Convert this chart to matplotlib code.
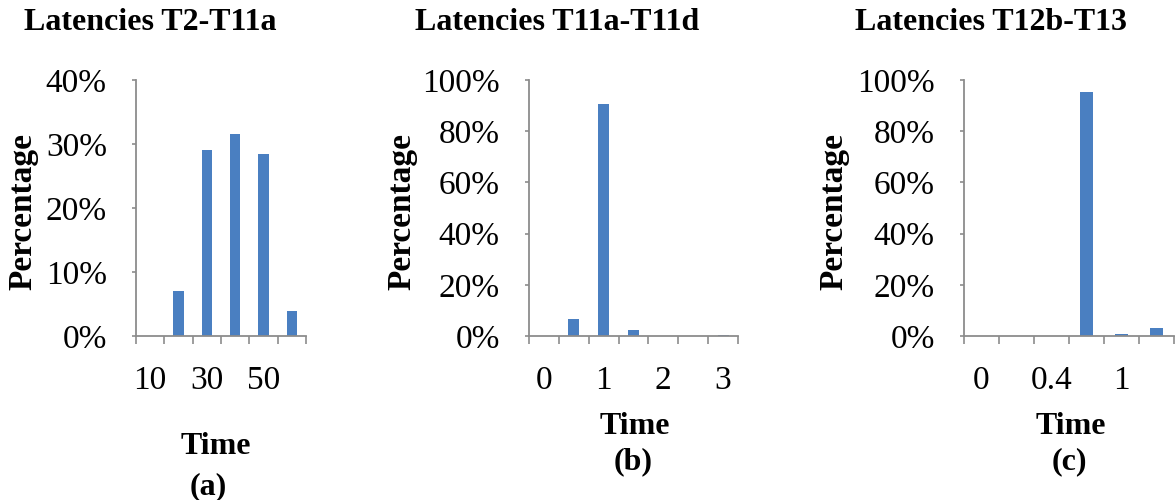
import matplotlib
matplotlib.use("Agg")
import matplotlib.pyplot as plt
from matplotlib.ticker import FuncFormatter

plt.rcParams['font.family'] = ['Liberation Serif', 'DejaVu Serif']

# ****** Data ******
times_a = ["10", "20", "30", "40", "50", "60"]
pct_a = [0, 7.0, 29.0, 31.6, 28.5, 3.9]

times_b = ["0", "0.5", "1", "1.5", "2", "2.5", "3"]
pct_b = [0, 6.6, 90.5, 2.3, 0, 0, 0.3]

times_c = ["0", "0.2", "0.4", "0.6", "1", "2"]
pct_c = [0, 0, 0, 95.2, 0.6, 3.0]

titles = ["Latencies T2-T11a", "Latencies T11a-T11d", "Latencies T12b-T13"]
letters = ["(a)", "(b)", "(c)"]

BAR = "#4A7FC1"
AXIS = "#8C8C8C"

W, H = 1175, 500
fig = plt.figure(figsize=(W / 100, H / 100), dpi=100)
fig.patch.set_facecolor("white")


def px(x0, x1, y0, y1):
    # pixel box -> figure fraction rect
    return [x0 / W, 1 - y1 / H, (x1 - x0) / W, (y1 - y0) / H]


def draw_panel(rect, cats, vals, ymax, ystep):
    ax = fig.add_axes(rect)
    n = len(cats)
    ax.bar(range(n), vals, width=0.37, color=BAR, zorder=2)
    ax.set_xlim(-0.5, n - 0.5)
    ax.set_ylim(0, ymax)
    ax.set_yticks(range(0, ymax + 1, ystep))
    ax.yaxis.set_major_formatter(FuncFormatter(lambda v, p: "%d%%" % v))

    # labels sit in the middle of every other category
    ax.set_xticks(range(n))
    ax.set_xticklabels([c if i % 2 == 0 else "" for i, c in enumerate(cats)])
    ax.tick_params(axis="x", which="major", length=0, pad=21, labelsize=24)
    # tick marks on category boundaries
    ax.set_xticks([k - 0.5 for k in range(n + 1)], minor=True)
    ax.tick_params(axis="x", which="minor", length=6, width=1.2, color=AXIS, direction="out")
    ax.tick_params(axis="y", length=3, width=1.2, color=AXIS, pad=18, labelsize=24)

    for s in ["top", "right"]:
        ax.spines[s].set_visible(False)
    for s in ["left", "bottom"]:
        ax.spines[s].set_color(AXIS)
        ax.spines[s].set_linewidth(1.3)
    ax.set_facecolor("none")
    return ax


draw_panel(px(136, 306, 80, 336), times_a, pct_a, 40, 10)
draw_panel(px(529, 738, 80, 336), times_b, pct_b, 100, 20)
draw_panel(px(964, 1174, 80, 336), times_c, pct_c, 100, 20)

# ****** Texts placed in pixels ******
title_x = [150, 557, 991]
ylab_x = [23, 402, 834]
time_pos = [(216, 446), (635, 427), (1071, 427)]
letter_pos = [(208, 487), (633, 462), (1069, 462)]

for i in range(3):
    fig.text(title_x[i] / W, 1 - 23 / H, titles[i], ha="center", va="center",
             fontsize=23, fontweight="bold")
    fig.text(ylab_x[i] / W, 1 - 212 / H, "Percentage", ha="center", va="center",
             rotation=90, fontsize=24, fontweight="bold")
    fig.text(time_pos[i][0] / W, 1 - time_pos[i][1] / H, "Time", ha="center",
             va="center", fontsize=23, fontweight="bold")
    fig.text(letter_pos[i][0] / W, 1 - letter_pos[i][1] / H, letters[i], ha="center",
             va="center", fontsize=23, fontweight="bold")

fig.savefig("out.png", dpi=100, facecolor="white")
